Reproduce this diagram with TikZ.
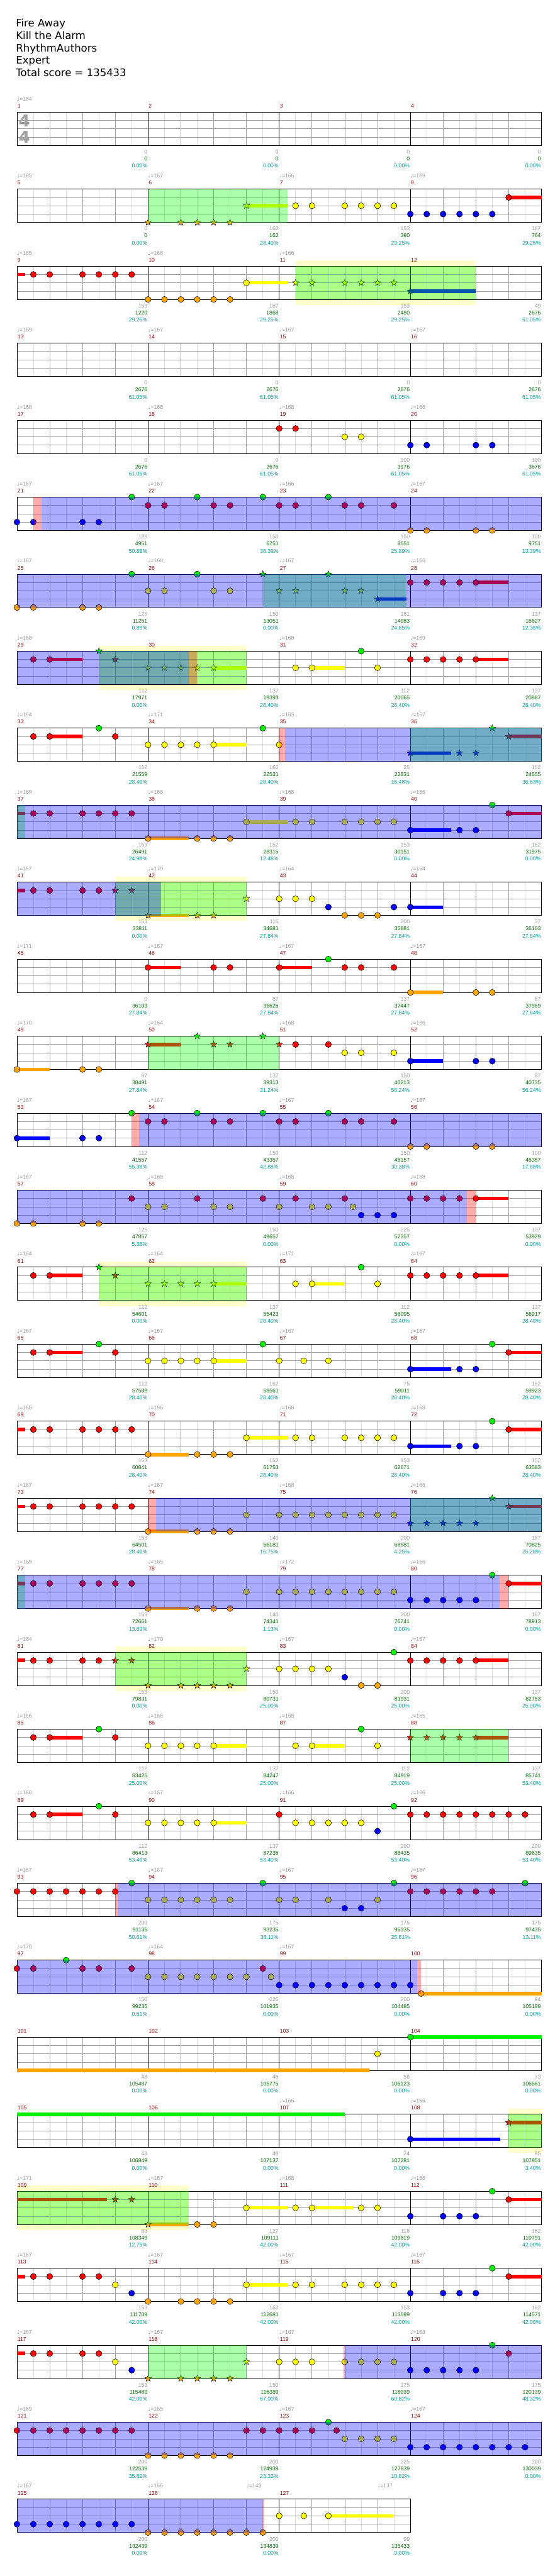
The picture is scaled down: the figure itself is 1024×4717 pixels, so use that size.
\documentclass[tikz,border=0pt]{standalone}
\usepackage{fontspec}
\setmainfont{DejaVu Sans}
\newfontfamily\labelfont{Liberation Sans}
\newfontfamily\notefont{DejaVu Sans}
\usetikzlibrary{shapes.geometric}

% lane colours (G R Y B O from top to bottom)
\definecolor{cG}{RGB}{0,240,0}
\definecolor{cR}{RGB}{255,0,0}
\definecolor{cY}{RGB}{255,255,0}
\definecolor{cB}{RGB}{0,0,255}
\definecolor{cO}{RGB}{255,165,0}
% overlay colours
\definecolor{tG}{RGB}{0,255,0}
\definecolor{tR}{RGB}{255,0,0}
\definecolor{tB}{RGB}{0,0,255}
\definecolor{paleyellow}{RGB}{255,255,204}
% grid and labels
\definecolor{gridgray}{RGB}{160,160,160}
\definecolor{gridlight}{RGB}{221,221,221}
\definecolor{mnumred}{RGB}{139,0,0}
\definecolor{labelgray}{RGB}{150,150,150}
\definecolor{totgreen}{RGB}{0,100,0}
\definecolor{pctcyan}{RGB}{0,153,153}

\def\lnG{0}\def\lnR{1}\def\lnY{2}\def\lnB{3}\def\lnO{4}
\newcommand{\lane}[1]{\csname ln#1\endcsname}

% staff of #1 measures, first measure #2
\newcommand{\staff}[2]{%
  \def\rowid{#2}%
  \pgfmathtruncatemacro{\nend}{8*#1}%
  \pgfmathtruncatemacro{\nlast}{8*#1-1}%
  \foreach \k in {1,...,\nlast}{%
    \pgfmathtruncatemacro{\km}{mod(\k,8)}%
    \ifodd\k\relax \draw[eighth] (\k,0) -- (\k,4);%
    \else\ifnum\km>0\relax \draw[beat] (\k,0) -- (\k,4);\fi\fi}%
  \foreach \l in {1,2,3}{\draw[beat] (0,\l) -- (\nend,\l);}%
  \foreach \k in {8,16,...,\nend}{\draw[barline] (\k,0) -- (\k,4);}%
  \draw[barline] (0,0) rectangle (\nend,4);%
  \foreach \i in {1,...,#1}{%
    \pgfmathtruncatemacro{\mm}{#2+\i-1}%
    \node[mnum] (m\mm) at ({8*(\i-1)},-0.74) {\mm};}%
}
\newcommand{\paleband}[2]{\fill[band] (#1,-0.66) rectangle (#2,4.66);}
\newcommand{\hold}[3]{\draw[holdbar, draw=c#1] (#2,\lane{#1}) -- (#3,\lane{#1});}
\newcommand{\hits}[2]{\foreach \p [count=\j] in {#2}{\node[hit, fill=c#1] (h\rowid#1\j) at (\p,\lane{#1}) {};}}
\newcommand{\starhits}[2]{\foreach \p [count=\j] in {#2}{\node[starhit, fill=c#1] (s\rowid#1\j) at (\p,\lane{#1}) {};}}
\newcommand{\glazed}[3]{\fill[glaze, fill=t#1] (#2,0) rectangle (#3,4);}
\newcommand{\tempos}[1]{\foreach \p/\v in {#1}{\node[tempo] (t\rowid-\p) at (\p,-1.59) {{\notefont ♩}=\v};}}
\newcommand{\scores}[1]{\foreach \ga/\gb/\gc [count=\i] in {#1}{%
    \pgfmathtruncatemacro{\mm}{\rowid+\i-1}%
    \node[cnt] (c\mm) at (8*\i,4.77) {\ga};
    \node[tot] (z\mm) at (8*\i,5.6) {\gb};
    \node[pct] (q\mm) at (8*\i,6.47) {\gc\%};}}

\begin{document}
\begin{tikzpicture}[
    x=1pt, y=-1pt,
    chartrow/.style={shift={(31,{205.3+141*(#1-1)})}, x=30pt, y=-15.25pt},
    title/.style={anchor=base west, inner sep=0pt, font=\fontsize{19}{22}\selectfont},
    eighth/.style={draw=gridlight, line width=0.8pt},
    beat/.style={draw=gridgray, line width=0.8pt},
    barline/.style={draw=black, line width=0.9pt},
    band/.style={fill=paleyellow},
    hit/.style={circle, draw=black, line width=0.6pt, minimum size=11pt, inner sep=0pt},
    starhit/.style={star, star points=5, star point ratio=2.4, draw=black, line width=0.5pt, minimum size=12.5pt, inner sep=0pt},
    holdbar/.style={line width=6.5pt},
    glaze/.style={fill opacity=0.33},
    labels/.style={inner sep=0pt, font=\labelfont\fontsize{10}{12}\selectfont},
    tempo/.style={labels, anchor=west, text=labelgray},
    mnum/.style={labels, anchor=west, xshift=1pt, text=mnumred},
    cnt/.style={labels, anchor=east, xshift=-1pt, text=labelgray},
    tot/.style={labels, anchor=east, xshift=-1pt, text=totgreen},
    pct/.style={labels, anchor=east, xshift=-1pt, text=pctcyan},
    timesig/.style={inner sep=0pt, text=gridgray, font=\fontsize{30}{30}\selectfont\bfseries}
  ]
  \fill[white] (0,0) rectangle (1024,4717);
  \useasboundingbox (0,0) rectangle (1024,4717);

  % Place header
  \foreach \txt [count=\i] in {Fire Away,Kill the Alarm,RhythmAuthors,Expert,Total score = 135433}
    \node[title] (head\i) at (29,{49+22.75*(\i-1)}) {\txt};

  % row 1: measures 1-4
  \begin{scope}[chartrow=1]
    \staff{4}{1}
    \tempos{0/164}
    \node[timesig] (ts1) at (0.45,1.05) {4};
    \node[timesig] (ts2) at (0.45,3.0) {4};
    \scores{0/0/0.00,0/0/0.00,0/0/0.00,0/0/0.00}
  \end{scope}

  % row 2: measures 5-8
  \begin{scope}[chartrow=2]
    \staff{4}{5}
    \tempos{0/165,8/167,16/166,24/169}
    \hold{Y}{14}{16.5}\hold{R}{30}{32}
    \hits{Y}{17,18,20,21,22,23}\hits{B}{24,25,26,27,28,29}\hits{R}{30}
    \starhits{O}{8,10,11,12,13}\starhits{Y}{14}
    \glazed{G}{8}{16.5}
    \scores{0/0/0.00,162/162/28.40,153/390/29.25,187/764/29.25}
  \end{scope}

  % row 3: measures 9-12
  \begin{scope}[chartrow=3]
    \paleband{17}{28}
    \staff{4}{9}
    \tempos{0/165,8/168,16/166}
    \hold{R}{0}{0.5}\hold{Y}{14}{16.5}\hold{B}{24}{28}
    \hits{R}{1,2,4,5,6,7}\hits{O}{8,9,10,11,12,13}\hits{Y}{14}
    \starhits{Y}{17,18,20,21,22,23}\starhits{B}{24}
    \glazed{G}{17}{28}
    \scores{153/1220/29.25,187/1868/29.25,153/2480/29.25,49/2676/61.05}
  \end{scope}

  % row 4: measures 13-16
  \begin{scope}[chartrow=4]
    \staff{4}{13}
    \tempos{0/169,8/167,16/167,24/167}
    \scores{0/2676/61.05,0/2676/61.05,0/2676/61.05,0/2676/61.05}
  \end{scope}

  % row 5: measures 17-20
  \begin{scope}[chartrow=5]
    \staff{4}{17}
    \tempos{0/168,8/166,16/168,24/166}
    \hits{R}{16,17}\hits{Y}{20,21}\hits{B}{24,25,28,29}
    \scores{0/2676/61.05,0/2676/61.05,100/3176/61.05,100/3676/61.05}
  \end{scope}

  % row 6: measures 21-24
  \begin{scope}[chartrow=6]
    \staff{4}{21}
    \tempos{0/167,8/167,16/166,24/167}
    \hits{B}{0,1,4,5}\hits{G}{7,11,15,19}\hits{R}{8,9,12,13,16,17,20,21,23}\hits{O}{24,25,28,29}
    \glazed{R}{1}{1.5}\glazed{B}{1.5}{32}
    \scores{125/4951/50.89,150/6751/38.39,150/8551/25.89,100/9751/13.39}
  \end{scope}

  % row 7: measures 25-28
  \begin{scope}[chartrow=7]
    \staff{4}{25}
    \tempos{0/167,8/168,16/167,24/166}
    \hold{B}{22}{23.75}\hold{R}{28}{30}
    \hits{O}{0,1,4,5}\hits{G}{7,11}\hits{Y}{8,9,12,13}\hits{R}{24,25,26,27,28}
    \starhits{G}{15,19}\starhits{Y}{16,17,20,21}\starhits{B}{22}
    \glazed{G}{15}{23.75}\glazed{B}{0}{32}
    \scores{125/11251/0.89,150/13051/0.00,161/14983/24.85,137/16627/12.35}
  \end{scope}

  % row 8: measures 29-32
  \begin{scope}[chartrow=8]
    \paleband{5}{14}
    \staff{4}{29}
    \tempos{0/168,16/168,24/169}
    \hold{R}{2}{4}\hold{Y}{12}{14}\hold{Y}{18}{20}\hold{R}{28}{30}
    \hits{R}{1,2,24,25,26,27,28}\hits{Y}{17,18,22}\hits{G}{21}
    \starhits{G}{5}\starhits{R}{6}\starhits{Y}{8,9,10,11,12}
    \glazed{G}{5}{14}\glazed{B}{0}{10.47}\glazed{R}{10.47}{11}
    \scores{112/17971/0.00,137/19393/28.40,112/20065/28.40,137/20887/28.40}
  \end{scope}

  % row 9: measures 33-36
  \begin{scope}[chartrow=9]
    \staff{4}{33}
    \tempos{0/164,8/171,16/163,24/167}
    \hold{R}{2}{4}\hold{Y}{12}{14}\hold{B}{24}{26.5}\hold{R}{30}{32}
    \hits{R}{1,2,6}\hits{G}{5,15}\hits{Y}{8,9,10,11,12,16}
    \starhits{B}{24,27,28}\starhits{G}{29}\starhits{R}{30}
    \glazed{G}{24}{32}\glazed{R}{16}{16.35}\glazed{B}{16.35}{32}
    \scores{112/21559/28.40,162/22531/28.40,25/22831/16.48,152/24655/36.63}
  \end{scope}

  % row 10: measures 37-40
  \begin{scope}[chartrow=10]
    \staff{4}{37}
    \tempos{0/169,8/166,16/168,24/166}
    \hold{R}{0}{0.5}\hold{O}{8}{10.5}\hold{Y}{14}{16.5}\hold{B}{24}{26.5}\hold{R}{30}{32}
    \hits{R}{1,2,4,5,6,7,30}\hits{O}{8,11,12,13}\hits{Y}{14,17,18,20,21,22,23}\hits{B}{24,27,28}\hits{G}{29}
    \glazed{G}{0}{0.5}\glazed{B}{0}{32}
    \scores{153/26491/24.98,152/28315/12.48,153/30151/0.00,152/31975/0.00}
  \end{scope}

  % row 11: measures 41-44
  \begin{scope}[chartrow=11]
    \paleband{6}{14}
    \staff{4}{41}
    \tempos{0/167,8/170,16/164,24/164}
    \hold{R}{0}{0.5}\hold{O}{8}{10.5}\hold{B}{24}{26}
    \hits{R}{1,2,4,5}\hits{Y}{16,17,18}\hits{B}{19,23,24}\hits{O}{20,21,22}
    \starhits{R}{6,7}\starhits{O}{8,11,12}\starhits{Y}{14}
    \glazed{G}{6}{14}\glazed{B}{0}{8.8}
    \scores{153/33811/0.00,115/34681/27.84,200/35881/27.84,37/36103/27.84}
  \end{scope}

  % row 12: measures 45-48
  \begin{scope}[chartrow=12]
    \staff{4}{45}
    \tempos{0/171,8/167,16/167,24/167}
    \hold{R}{8}{10}\hold{R}{16}{18}\hold{O}{24}{26}
    \hits{R}{8,12,13,16,20,21,23}\hits{G}{19}\hits{O}{24,28,29}
    \scores{0/36103/27.84,87/36625/27.84,137/37447/27.84,87/37969/27.84}
  \end{scope}

  % row 13: measures 49-52
  \begin{scope}[chartrow=13]
    \staff{4}{49}
    \tempos{0/170,8/164,16/168,24/166}
    \hold{O}{0}{2}\hold{R}{8}{10}\hold{B}{24}{26}
    \hits{O}{0,4,5}\hits{R}{17,19}\hits{Y}{20,21,23}\hits{B}{24,28,29}
    \starhits{R}{8,12,13,16}\starhits{G}{11,15}
    \glazed{G}{8}{16}
    \scores{87/38491/27.84,137/39313/31.24,150/40213/56.24,87/40735/56.24}
  \end{scope}

  % row 14: measures 53-56
  \begin{scope}[chartrow=14]
    \staff{4}{53}
    \tempos{0/167,8/167,16/167,24/167}
    \hold{B}{0}{2}
    \hits{B}{0,4,5}\hits{G}{7,11,15,19}\hits{R}{8,9,12,13,16,17,20,21,23}\hits{O}{24,25,28,29}
    \glazed{R}{7}{7.45}\glazed{B}{7.45}{32}
    \scores{112/41557/55.38,150/43357/42.88,150/45157/30.38,100/46357/17.88}
  \end{scope}

  % row 15: measures 57-60
  \begin{scope}[chartrow=15]
    \staff{4}{57}
    \tempos{0/167,8/168,16/168,24/168}
    \hold{R}{28}{30}
    \hits{O}{0,1,4,5}\hits{R}{7,11,15,17,20,24,25,26,27,28}\hits{Y}{8,9,12,13,16,18,19,20.5}\hits{B}{21,22,23}
    \glazed{B}{0}{27.44}\glazed{R}{27.44}{28}
    \scores{125/47857/5.38,150/49657/0.00,225/52357/0.00,137/53929/0.00}
  \end{scope}

  % row 16: measures 61-64
  \begin{scope}[chartrow=16]
    \paleband{5}{14}
    \staff{4}{61}
    \tempos{0/164,8/164,16/171,24/167}
    \hold{R}{2}{4}\hold{Y}{12}{14}\hold{Y}{18}{20}\hold{R}{28}{30}
    \hits{R}{1,2,24,25,26,27,28}\hits{Y}{17,18,22}\hits{G}{21}
    \starhits{G}{5}\starhits{R}{6}\starhits{Y}{8,9,10,11,12}
    \glazed{G}{5}{14}
    \scores{112/54601/0.00,137/55423/28.40,112/56095/28.40,137/56917/28.40}
  \end{scope}

  % row 17: measures 65-68
  \begin{scope}[chartrow=17]
    \staff{4}{65}
    \tempos{0/167,8/167,16/167,24/167}
    \hold{R}{2}{4}\hold{Y}{12}{14}\hold{B}{24}{26.5}\hold{R}{30}{32}
    \hits{R}{1,2,6,30}\hits{G}{5,15,29}\hits{Y}{8,9,10,11,12,16,17.5,19}\hits{B}{24,27,28}
    \scores{112/57589/28.40,162/58561/28.40,75/59011/28.40,152/59923/28.40}
  \end{scope}

  % row 18: measures 69-72
  \begin{scope}[chartrow=18]
    \staff{4}{69}
    \tempos{0/168,8/166,16/168,24/168}
    \hold{R}{0}{0.5}\hold{O}{8}{10.5}\hold{Y}{14}{16.5}\hold{B}{24}{26.5}\hold{R}{30}{32}
    \hits{R}{1,2,4,5,6,7,30}\hits{O}{8,11,12,13}\hits{Y}{14,17,18,20,21,22,23}\hits{B}{24,27,28}\hits{G}{29}
    \scores{153/60841/28.40,152/61753/28.40,153/62671/28.40,152/63583/28.40}
  \end{scope}

  % row 19: measures 73-76
  \begin{scope}[chartrow=19]
    \staff{4}{73}
    \tempos{0/167,8/167,16/168,24/166}
    \hold{R}{0}{0.5}\hold{O}{8}{10.5}\hold{R}{30}{32}
    \hits{R}{1,2,4,5,6,7}\hits{O}{8,11,12,13}\hits{Y}{14,16,17,18,19,20,21,22,23}
    \starhits{B}{24,25,26,27,28}\starhits{G}{29}\starhits{R}{30}
    \glazed{G}{24}{32}\glazed{R}{8}{8.5}\glazed{B}{8.5}{32}
    \scores{153/64501/28.40,140/66181/16.75,200/68581/4.25,187/70825/25.28}
  \end{scope}

  % row 20: measures 77-80
  \begin{scope}[chartrow=20]
    \staff{4}{77}
    \tempos{0/169,8/165,16/172,24/166}
    \hold{R}{0}{0.5}\hold{O}{8}{10.5}\hold{R}{30}{32}
    \hits{R}{1,2,4,5,6,7,30}\hits{O}{8,11,12,13}\hits{Y}{14,16,17,18,19,20,21,22,23}\hits{B}{24,25,26,27,28}\hits{G}{29}
    \glazed{G}{0}{0.5}\glazed{B}{0}{29.45}\glazed{R}{29.45}{30}
    \scores{153/72661/13.63,140/74341/1.13,200/76741/0.00,187/78913/0.00}
  \end{scope}

  % row 21: measures 81-84
  \begin{scope}[chartrow=21]
    \paleband{6}{14}
    \staff{4}{81}
    \tempos{0/164,8/170,16/167,24/167}
    \hold{R}{0}{0.5}\hold{R}{28}{30}
    \hits{R}{1,2,4,5,24,25,26,27,28}\hits{Y}{16,17,18,19}\hits{B}{20}\hits{O}{21,22}\hits{G}{23}
    \starhits{R}{6,7}\starhits{O}{8,10,11,12,13}\starhits{Y}{14}
    \glazed{G}{6}{14}
    \scores{153/79831/0.00,150/80731/25.00,200/81931/25.00,137/82753/25.00}
  \end{scope}

  % row 22: measures 85-88
  \begin{scope}[chartrow=22]
    \staff{4}{85}
    \tempos{0/166,8/166,16/168,24/165}
    \hold{R}{2}{4}\hold{Y}{12}{14}\hold{Y}{18}{20}\hold{R}{28}{30}
    \hits{R}{1,2,6}\hits{G}{5,21}\hits{Y}{8,9,10,11,12,17,18,22}
    \starhits{R}{24,25,26,27,28}
    \glazed{G}{24}{30}
    \scores{112/83425/25.00,137/84247/25.00,112/84919/25.00,137/85741/53.40}
  \end{scope}

  % row 23: measures 89-92
  \begin{scope}[chartrow=23]
    \staff{4}{89}
    \tempos{0/168,8/167,16/166,24/166}
    \hold{R}{2}{4}\hold{Y}{12}{14}
    \hits{R}{1,2,6,16,24,25,26,27,28,29,30,31}\hits{G}{5,23}\hits{Y}{8,9,10,11,12,17,18,19,20,21}\hits{B}{22}
    \scores{112/86413/53.40,137/87235/53.40,200/88435/53.40,200/89635/53.40}
  \end{scope}

  % row 24: measures 93-96
  \begin{scope}[chartrow=24]
    \staff{4}{93}
    \tempos{0/167,8/167,16/167,24/167}
    \hits{R}{0,1,2,3,4,5,6,24,25,26,27,28,29}\hits{G}{7,15,23,31}\hits{Y}{8,9,10,11,12,13,16,17,19,22}\hits{B}{20,21}
    \glazed{R}{6}{6.15}\glazed{B}{6.15}{32}
    \scores{200/91135/50.61,175/93235/38.11,175/95335/25.61,175/97435/13.11}
  \end{scope}

  % row 25: measures 97-100
  \begin{scope}[chartrow=25]
    \staff{4}{97}
    \tempos{0/170,8/164,16/167}
    \hold{O}{24.66}{32}
    \hits{R}{0,1,4,5,7,15}\hits{G}{3}\hits{Y}{8,9,10,11,12,13,14,15.5}\hits{B}{16,17,18,19,20,21,22,23,24}\hits{O}{24.66}
    \glazed{B}{0}{24.4}\glazed{R}{24.4}{24.66}
    \scores{150/99235/0.61,225/101935/0.00,200/104485/0.00,94/105199/0.00}
  \end{scope}

  % row 26: measures 101-104
  \begin{scope}[chartrow=26]
    \staff{4}{101}
    \hold{O}{0}{21.5}\hold{G}{24}{32}
    \hits{Y}{22}\hits{G}{24}
    \scores{48/105487/0.00,48/105775/0.00,58/106123/0.00,73/106561/0.00}
  \end{scope}

  % row 27: measures 105-108
  \begin{scope}[chartrow=27]
    \paleband{30}{32}
    \staff{4}{105}
    \tempos{16/166,24/166}
    \hold{G}{0}{20}\hold{B}{24}{29.5}\hold{R}{30}{32}
    \hits{B}{24}
    \starhits{R}{30}
    \glazed{G}{30}{32}
    \scores{48/106849/0.00,48/107137/0.00,24/107281/0.00,95/107851/3.40}
  \end{scope}

  % row 28: measures 109-112
  \begin{scope}[chartrow=28]
    \paleband{0}{10.5}
    \staff{4}{109}
    \tempos{0/171,8/167,16/168,24/166}
    \hold{R}{0}{5.5}\hold{O}{8}{10.5}\hold{Y}{14}{16.5}\hold{Y}{18}{20.5}\hold{R}{30}{32}
    \hits{O}{11,12}\hits{Y}{14,17,18,21,22}\hits{B}{24,26,27,28}\hits{G}{29}\hits{R}{30}
    \starhits{R}{6,7}\starhits{O}{8}
    \glazed{G}{0}{10.5}
    \scores{83/108349/12.75,127/109111/42.00,118/109819/42.00,162/110791/42.00}
  \end{scope}

  % row 29: measures 113-116
  \begin{scope}[chartrow=29]
    \staff{4}{113}
    \tempos{0/167,8/167,16/167,24/167}
    \hold{R}{0}{0.5}\hold{Y}{14}{16.5}\hold{R}{30}{32}
    \hits{R}{1,2,4,5,30}\hits{Y}{6,14,17,18,20,21,22,23}\hits{B}{7,24,26,27,28}\hits{O}{8,10,11,12,13}\hits{G}{29}
    \scores{153/111709/42.00,162/112681/42.00,153/113599/42.00,162/114571/42.00}
  \end{scope}

  % row 30: measures 117-120
  \begin{scope}[chartrow=30]
    \staff{4}{117}
    \tempos{0/167,8/167,16/167,24/168}
    \hold{R}{0}{0.5}
    \hits{R}{1,2,4,5,30}\hits{Y}{6,16,17,18,20,21,22,23}\hits{B}{7,24,25,26,27,28}\hits{G}{29}
    \starhits{O}{8,10,11,12,13}\starhits{Y}{14}
    \glazed{G}{8}{14}\glazed{R}{19.93}{20}\glazed{B}{20}{32}
    \scores{153/115489/42.00,150/116389/67.00,175/118039/60.82,175/120139/48.32}
  \end{scope}

  % row 31: measures 121-124
  \begin{scope}[chartrow=31]
    \staff{4}{121}
    \tempos{0/169,8/165,16/167,24/167}
    \hits{R}{0,1,2,3,4,5,6,7,14,15,16,17,18,19.5}\hits{O}{8,9,10,11,12,13}\hits{G}{19}\hits{Y}{20,21,22,23}\hits{B}{24,25,26,27,28,29,30,31}
    \glazed{B}{0}{32}
    \scores{200/122539/35.82,200/124939/23.32,225/127639/10.82,200/130039/0.00}
  \end{scope}

  % row 32: measures 125-127
  \begin{scope}[chartrow=32]
    \staff{3}{125}
    \tempos{0/167,8/166,14/143,22/137}
    \hold{Y}{19}{23}
    \hits{B}{0,1,2,3,4,5,6,7}\hits{O}{8,9,10,11,12,13,14,15}\hits{Y}{16,17.5,19}
    \glazed{B}{0}{15}\glazed{R}{15}{15.07}
    \scores{200/132439/0.00,200/134839/0.00,99/135433/0.00}
  \end{scope}
\end{tikzpicture}
\end{document}
